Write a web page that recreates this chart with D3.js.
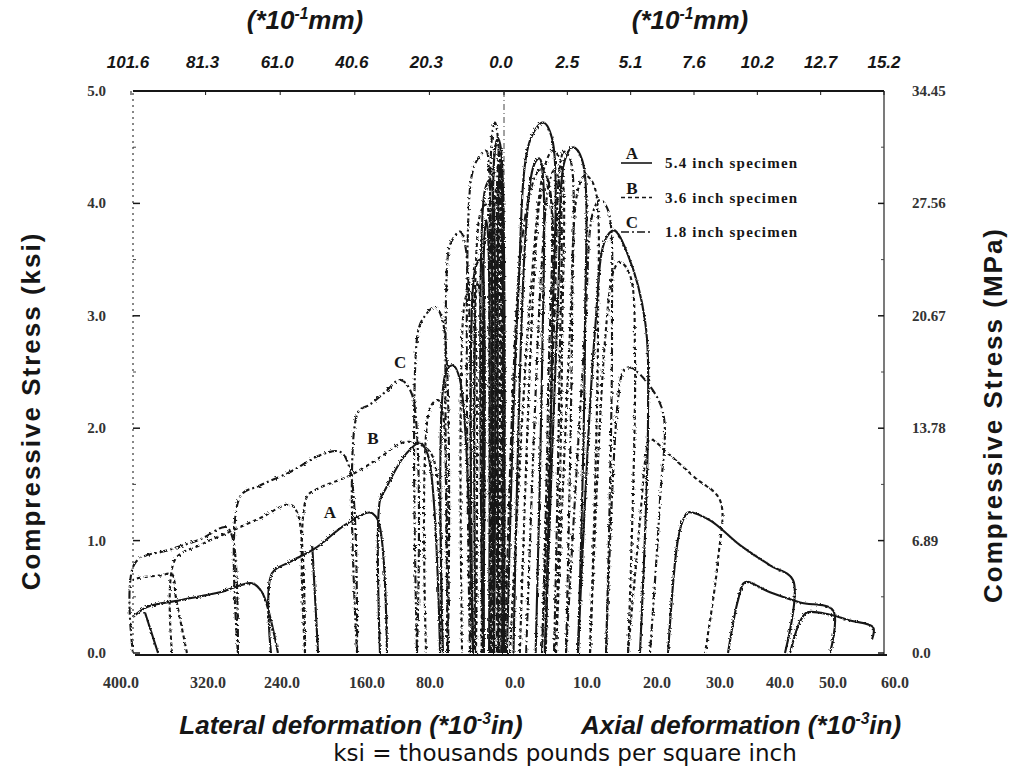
<!DOCTYPE html>
<html>
<head>
<meta charset="utf-8">
<script src="https://cdn.jsdelivr.net/npm/d3@7"></script>
<style>
  body { margin: 0; background: #fff; }
</style>
</head>
<body>
<svg id="chart" width="1013" height="768"></svg>
<script>
// tick values and labels
const latTicks = [400, 320, 240, 160, 80, 0];
const axTicks = [10, 20, 30, 40, 50, 60];
const latMm = ["101.6", "81.3", "61.0", "40.6", "20.3", "0.0"];
const axMm = ["2.5", "5.1", "7.6", "10.2", "12.7", "15.2"];
const ksiTicks = [0, 1, 2, 3, 4, 5];
const mpaLabels = ["0.0", "6.89", "13.78", "20.67", "27.56", "34.45"];

// cyclic loops: [deformation (1e-3 in), stress (ksi)]
// lateral side
const latA = [
  [[0, 0], [3.2, 4.48], [6.4, 4.58], [9.7, 4.48], [10.7, 0]],
  [[2.0, 0], [2.5, 4.20], [4.0, 4.35], [5.5, 4.20], [6.0, 0]],
  [[10.7, 0], [11.8, 4.07], [15.0, 4.21], [20.4, 4.12], [22.5, 0]],
  [[16.0, 0], [17.0, 3.70], [19.0, 3.85], [21.0, 3.70], [21.5, 0]],
  [[22.5, 0], [22.5, 3.36], [25.7, 3.50], [31.1, 3.41], [33.2, 0]],
  [[33.2, 0], [47.2, 2.43], [54.7, 2.56], [62.2, 2.50], [65.4, 0]],
  [[68.6, 0], [81.5, 1.76], [90.1, 1.87], [106.2, 1.76], [127.6, 1.45], [133.0, 1.36], [133.0, 0]],
  [[125.5, 0], [135.1, 1.18], [143.7, 1.25], [170.5, 1.14], [202.7, 0.93], [229.5, 0.81], [248.8, 0.71], [249.9, 0]],
  [[205.6, 0.95], [199.4, 0]],
  [[242.4, 0], [259.5, 0.54], [270.2, 0.62], [304.6, 0.54], [347.5, 0.47], [382.8, 0.41], [397.9, 0.32]],
  [[385.0, 0.36], [371.0, 0]]
];
const latB = [
  [[1.1, 0], [4.3, 4.39], [7.5, 4.56], [10.7, 4.39], [11.8, 0]],
  [[5.0, 0], [6.0, 4.00], [8.0, 4.15], [10.0, 4.00], [10.5, 0]],
  [[11.8, 0], [15.0, 3.81], [19.3, 3.99], [25.7, 3.90], [30.0, 0]],
  [[24.0, 0], [26.0, 3.20], [28.0, 3.30], [30.0, 3.20], [31.0, 0]],
  [[30.0, 0], [32.2, 3.10], [36.5, 3.23], [41.8, 3.14], [45.0, 0]],
  [[61.1, 0], [65.4, 2.12], [70.8, 2.25], [79.4, 2.18], [83.6, 0]],
  [[68.6, 0], [77.2, 1.76], [95.4, 1.87], [109.4, 1.87], [133.0, 1.74], [165.1, 1.58], [197.3, 1.47], [211.3, 1.39], [213.4, 0]],
  [[213.4, 0], [220.9, 1.23], [229.5, 1.32], [261.7, 1.20], [293.8, 1.08], [326.0, 0.96], [352.8, 0.83], [356.0, 0]],
  [[340.0, 0], [352.0, 0.50], [356.0, 0.70], [368.9, 0.69], [390.3, 0.67], [397.9, 0.65]]
];
const latC = [
  [[1.1, 0], [4.3, 4.0], [7.5, 4.65], [9.7, 4.72], [12.9, 4.60], [13.9, 0]],
  [[3.0, 0], [4.0, 4.30], [5.5, 4.45], [7.0, 4.30], [7.5, 0]],
  [[13.9, 0], [16.1, 4.30], [19.3, 4.47], [27.9, 4.40], [35.4, 4.21], [36.5, 0]],
  [[36.5, 0], [40.8, 3.59], [47.2, 3.75], [55.8, 3.67], [60.1, 3.54], [60.1, 0]],
  [[60.1, 0], [65.4, 2.94], [74.0, 3.08], [84.7, 3.00], [92.2, 2.86], [93.3, 0]],
  [[93.3, 0], [98.7, 2.30], [111.5, 2.43], [127.6, 2.32], [143.7, 2.21], [156.6, 2.14], [157.6, 0]],
  [[157.6, 0], [165.1, 1.63], [175.9, 1.79], [197.3, 1.76], [229.5, 1.61], [261.7, 1.49], [283.1, 1.39], [285.3, 0]],
  [[285.3, 0], [290.6, 1.01], [298.1, 1.12], [326.0, 1.01], [358.2, 0.92], [395.7, 0.80], [397.9, 0]]
];
// axial side
const axA = [
  [[0.47, 0], [2.21, 3.14], [4.11, 4.56], [6.16, 4.72], [7.58, 4.58], [7.58, 2.70], [6.47, 0]],
  [[1.5, 0], [3.5, 3.80], [4.8, 4.35], [5.6, 4.40], [6.2, 4.20], [6.0, 2.50], [5.0, 0]],
  [[6.47, 0], [8.53, 3.14], [9.63, 4.39], [10.9, 4.50], [12.32, 4.39], [12.79, 2.87], [11.68, 0]],
  [[11.68, 0], [14.37, 2.87], [15.95, 3.67], [17.37, 3.76], [19.58, 3.54], [22.26, 2.96], [22.74, 2.07], [21.47, 0]],
  [[25.9, 0], [27.47, 1.01], [28.4, 1.20], [29.05, 1.25], [32.53, 1.18], [37.26, 0.96], [42.0, 0.78], [45.63, 0.65], [44.37, 0]],
  [[35.37, 0], [36.95, 0.47], [38.05, 0.63], [42.0, 0.54], [46.74, 0.45], [51.95, 0.38], [51.48, 0]],
  [[45.16, 0], [46.74, 0.28], [47.84, 0.36], [51.48, 0.34], [54.63, 0.29], [58.27, 0.23], [58.11, 0.12]]
];
const axB = [
  [[0.95, 0], [4.11, 3.14], [6.47, 4.34], [7.74, 4.47], [8.84, 4.39], [9.16, 2.70], [8.21, 0]],
  [[2.5, 0], [5.0, 3.60], [6.0, 4.10], [6.8, 4.15], [7.5, 4.00], [7.4, 2.30], [6.6, 0]],
  [[8.21, 0], [10.42, 2.87], [11.68, 4.12], [12.79, 4.25], [14.21, 4.16], [14.84, 2.87], [13.58, 0]],
  [[13.58, 0], [15.95, 2.78], [17.37, 3.41], [18.32, 3.48], [19.9, 3.36], [20.69, 2.61], [19.58, 0]],
  [[19.58, 0], [21.47, 1.18], [22.42, 1.76], [23.05, 1.90], [26.21, 1.76], [30.16, 1.56], [34.1, 1.36], [33.79, 0.83], [31.74, 0]]
];
const axC = [
  [[0.16, 0], [2.53, 3.50], [4.42, 4.16], [5.68, 4.30], [6.95, 4.21], [6.95, 2.25], [6.0, 0]],
  [[3.5, 0], [6.0, 3.50], [7.2, 4.20], [8.0, 4.30], [8.8, 4.15], [8.7, 2.30], [7.9, 0]],
  [[6.0, 0], [8.05, 3.14], [8.84, 4.34], [9.47, 4.46], [10.42, 4.40], [10.74, 2.96], [9.79, 0]],
  [[9.79, 0], [12.79, 2.87], [14.05, 3.92], [15.16, 4.03], [16.42, 3.94], [17.05, 2.87], [16.11, 0]],
  [[16.11, 0], [18.0, 2.25], [18.95, 2.52], [19.9, 2.54], [22.26, 2.43], [25.1, 2.14], [24.63, 1.36], [23.05, 0]]
];

const specimens = [
  {key: "A", label: "5.4 inch specimen", lat: latA, ax: axA, dash: null},
  {key: "B", label: "3.6 inch specimen", lat: latB, ax: axB, dash: "4,3"},
  {key: "C", label: "1.8 inch specimen", lat: latC, ax: axC, dash: "8,3,2,3"}
];

const svg = d3.select("#chart");

// scales: lateral grows to the left, axial to the right, shared zero line
const xLat = d3.scaleLinear().domain([0, 400]).range([504, 131]);
const xAx = d3.scaleLinear().domain([0, 60]).range([504, 884]);
const y = d3.scaleLinear().domain([0, 5]).range([653, 91]);
// bottom labels on the scanned sheet are not evenly spaced
const xLatLab = d3.scaleLinear().domain(latTicks).range([121, 208, 282, 367, 430, 515]);
const xAxLab = d3.scaleLinear().domain(axTicks).range([587, 657, 720, 780, 833, 895]);

const ink = "#161616";

// rough scan look
const defs = svg.append("defs");
const filt = defs.append("filter").attr("id", "rough")
  .attr("x", "-5%").attr("y", "-5%").attr("width", "110%").attr("height", "110%");
filt.append("feTurbulence").attr("type", "fractalNoise")
  .attr("baseFrequency", 0.55).attr("numOctaves", 1).attr("seed", 4).attr("result", "n");
filt.append("feDisplacementMap").attr("in", "SourceGraphic").attr("in2", "n").attr("scale", 3.4);

// frame
svg.append("line").attr("x1", 133).attr("x2", 884).attr("y1", 91).attr("y2", 91)
  .attr("stroke", ink).attr("stroke-width", 2);
svg.append("line").attr("x1", 884).attr("x2", 884).attr("y1", 91).attr("y2", 655)
  .attr("stroke", "#333").attr("stroke-width", 1.3);
svg.append("line").attr("x1", 135).attr("x2", 887).attr("y1", 655).attr("y2", 655)
  .attr("stroke", ink).attr("stroke-width", 2);
svg.append("line").attr("x1", 133).attr("x2", 133).attr("y1", 93).attr("y2", 655)
  .attr("stroke", "#555").attr("stroke-width", 1.4).attr("stroke-dasharray", "2,4");

// zero line
svg.append("line").attr("x1", xLat(0)).attr("x2", xLat(0)).attr("y1", 91).attr("y2", 653)
  .attr("stroke", "#444").attr("stroke-width", 1).attr("stroke-dasharray", "6,3,1,3");

// y ticks
const minor = d3.range(0.5, 5, 1);
ksiTicks.forEach(v => {
  svg.append("line").attr("x1", 133).attr("x2", 140).attr("y1", y(v)).attr("y2", y(v))
    .attr("stroke", ink).attr("stroke-width", 1.5);
  svg.append("line").attr("x1", 884).attr("x2", 878).attr("y1", y(v)).attr("y2", y(v))
    .attr("stroke", ink).attr("stroke-width", 1.5);
});
minor.forEach(v => {
  svg.append("line").attr("x1", 133).attr("x2", 136).attr("y1", y(v)).attr("y2", y(v))
    .attr("stroke", "#444");
  svg.append("line").attr("x1", 884).attr("x2", 881).attr("y1", y(v)).attr("y2", y(v))
    .attr("stroke", "#444");
});

// top ticks
latTicks.forEach(v => svg.append("line").attr("x1", xLat(v)).attr("x2", xLat(v))
  .attr("y1", 91).attr("y2", 95).attr("stroke", ink));
axTicks.forEach(v => svg.append("line").attr("x1", xAx(v)).attr("x2", xAx(v))
  .attr("y1", 91).attr("y2", 95).attr("stroke", ink));

// y labels
const serif = "'Liberation Serif', 'DejaVu Serif', serif";
ksiTicks.forEach(v => {
  svg.append("text").attr("x", 106).attr("y", y(v) + 5)
    .attr("text-anchor", "end").style("font-family", serif).style("font-size", "15px")
    .style("font-weight", "bold").attr("fill", "#333").text(v.toFixed(1));
});
ksiTicks.forEach((v, i) => {
  svg.append("text").attr("x", 912).attr("y", y(v) + 5)
    .style("font-family", serif).style("font-size", "15px")
    .style("font-weight", "bold").attr("fill", "#333").text(mpaLabels[i]);
});

// bottom labels
latTicks.forEach(v => {
  svg.append("text").attr("x", xLatLab(v)).attr("y", 688).attr("text-anchor", "middle")
    .style("font-family", serif).style("font-size", "16px").style("font-weight", "bold")
    .attr("fill", "#333").text(v.toFixed(1));
});
axTicks.forEach(v => {
  svg.append("text").attr("x", xAxLab(v)).attr("y", 688).attr("text-anchor", "middle")
    .style("font-family", serif).style("font-size", "16px").style("font-weight", "bold")
    .attr("fill", "#333").text(v.toFixed(1));
});

// top mm labels
const sans = "'Liberation Sans', Arial, sans-serif";
latTicks.forEach((v, i) => {
  svg.append("text").attr("x", xLat(v) - 3).attr("y", 68).attr("text-anchor", "middle")
    .style("font-family", sans).style("font-size", "17px").style("font-weight", "bold")
    .style("font-style", "italic").attr("fill", ink).text(latMm[i]);
});
axTicks.forEach((v, i) => {
  svg.append("text").attr("x", xAx(v)).attr("y", 68).attr("text-anchor", "middle")
    .style("font-family", sans).style("font-size", "17px").style("font-weight", "bold")
    .style("font-style", "italic").attr("fill", ink).text(axMm[i]);
});

// titles with superscript
function supTitle(x, yy, size, pre, sup, post) {
  const t = svg.append("text").attr("x", x).attr("y", yy).attr("text-anchor", "middle")
    .style("font-family", sans).style("font-size", size + "px").style("font-weight", "bold")
    .style("font-style", "italic").attr("fill", ink);
  t.append("tspan").text(pre);
  t.append("tspan").attr("dy", -size * 0.4).style("font-size", (size * 0.6) + "px").text(sup);
  t.append("tspan").attr("dy", size * 0.4).text(post);
  return t;
}
supTitle(305, 29, 26, "(*10", "-1", "mm)");
supTitle(690, 29, 26, "(*10", "-1", "mm)");
supTitle(351, 734, 26, "Lateral deformation (*10", "-3", "in)");
supTitle(741, 734, 26, "Axial deformation (*10", "-3", "in)");

svg.append("text").attr("x", 565).attr("y", 761).attr("text-anchor", "middle")
  .style("font-family", "'DejaVu Sans', sans-serif").style("font-size", "23px")
  .attr("fill", "#111").text("ksi = thousands pounds per square inch");

svg.append("text").attr("transform", "translate(40,411) rotate(-90)")
  .attr("text-anchor", "middle").style("font-family", sans).style("font-size", "26px")
  .style("letter-spacing", "2px")
  .style("font-weight", "bold").attr("fill", ink).text("Compressive Stress (ksi)");
svg.append("text").attr("transform", "translate(1002,415) rotate(-90)")
  .attr("text-anchor", "middle").style("font-family", sans).style("font-size", "26px")
  .style("letter-spacing", "2px")
  .style("font-weight", "bold").attr("fill", ink).text("Compressive Stress (MPa)");

// curves
const lineLat = d3.line().x(d => xLat(d[0])).y(d => y(d[1]))
  .curve(d3.curveCatmullRom.alpha(0.5));
const lineAx = d3.line().x(d => xAx(d[0])).y(d => y(d[1]))
  .curve(d3.curveCatmullRom.alpha(0.5));

const curves = svg.append("g").attr("filter", "url(#rough)");
specimens.forEach(s => {
  s.lat.forEach(loop => {
    curves.append("path").attr("d", lineLat(loop)).attr("fill", "none")
      .attr("stroke", ink).attr("stroke-width", 2.1)
      .attr("stroke-dasharray", s.dash);
  });
  s.ax.forEach(loop => {
    curves.append("path").attr("d", lineAx(loop)).attr("fill", "none")
      .attr("stroke", ink).attr("stroke-width", 2.1)
      .attr("stroke-dasharray", s.dash);
  });
});

// curve labels
const curveLabels = [["A", 186.6, 1.20], ["B", 140.5, 1.86], ["C", 111.5, 2.54]];
curveLabels.forEach(d => {
  svg.append("text").attr("x", xLat(d[1])).attr("y", y(d[2])).attr("text-anchor", "middle")
    .style("font-family", serif).style("font-size", "17px").style("font-weight", "bold")
    .attr("fill", ink).text(d[0]);
});

// legend
specimens.forEach((s, i) => {
  const ly = 163 + i * 34.5;
  svg.append("text").attr("x", 632).attr("y", ly - 4).attr("text-anchor", "middle")
    .style("font-family", serif).style("font-size", "17px").style("font-weight", "bold")
    .attr("fill", ink).text(s.key);
  svg.append("line").attr("x1", 621).attr("x2", 652).attr("y1", ly).attr("y2", ly)
    .attr("stroke", ink).attr("stroke-width", 1.6).attr("stroke-dasharray", s.dash);
  svg.append("text").attr("x", 665).attr("y", ly + 5)
    .style("font-family", serif).style("font-size", "15px").style("font-weight", "bold")
    .style("letter-spacing", "1.2px")
    .attr("fill", ink).text(s.label);
});
</script>
</body>
</html>
